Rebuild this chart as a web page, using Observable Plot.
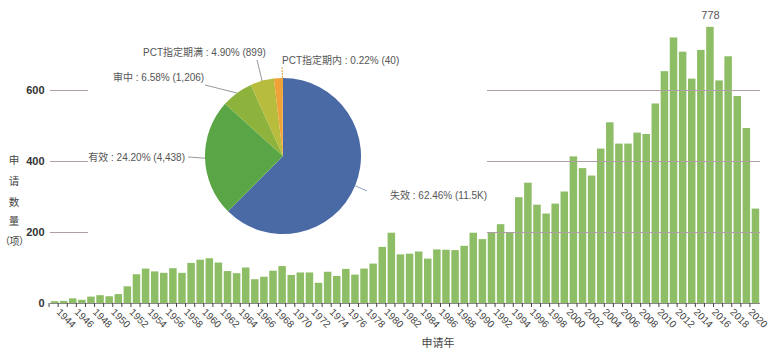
<!DOCTYPE html>
<html><head><meta charset="utf-8">
<script src="https://cdn.jsdelivr.net/npm/d3@7"></script>
<script src="https://cdn.jsdelivr.net/npm/@observablehq/plot@0.6"></script>
<style>
body{margin:0;background:#fff;}
#chart svg{display:block;}
</style>
</head><body><div id="chart"></div>
<script>
// ---- bar data ----
const years = [1943,1944,1945,1946,1947,1948,1949,1950,1951,1952,1953,1954,1955,1956,1957,1958,1959,1960,1961,1962,1963,1964,1965,1966,1967,1968,1969,1970,1971,1972,1973,1974,1975,1976,1977,1978,1979,1980,1981,1982,1983,1984,1985,1986,1987,1988,1989,1990,1991,1992,1993,1994,1995,1996,1997,1998,1999,2000,2001,2002,2003,2004,2005,2006,2007,2008,2009,2010,2011,2012,2013,2014,2015,2016,2017,2018,2019,2020];
const counts = [5,6,13,9,18,22,19,25,47,81,97,89,85,98,85,113,122,126,114,90,84,100,67,74,91,104,79,86,86,57,88,76,96,80,97,111,158,198,137,139,145,125,151,150,149,161,198,180,198,222,200,298,339,277,252,280,314,413,380,359,435,509,449,449,480,476,562,653,748,708,632,713,778,627,695,583,493,266];
const yTicks = [0, 200, 400, 600];
const xTickYears = years; // every year gets a tick, even years get a label

// ---- pie data ----
const statusNames = ["失效", "有效", "审中", "PCT指定期满", "", "PCT指定期内"];
const statusShares = [62.46, 24.20, 6.58, 4.90, 1.64, 0.22];
const statusLabels = ["失效 : 62.46% (11.5K)", "有效 : 24.20% (4,438)", "审中 : 6.58% (1,206)", "PCT指定期满 : 4.90% (899)", "", "PCT指定期内 : 0.22% (40)"];
const statusColors = ["#4a6aa6", "#5aa646", "#8db33c", "#b7bc3c", "#eea237", "#eea237"];

const bars = years.map((y, i) => ({year: y, count: counts[i]}));
const peak = bars.reduce((a, b) => (b.count > a.count ? b : a));

const gridColor = "#b09ea4";
const FONT = '"Liberation Sans", Arial, "Noto Sans CJK SC", sans-serif';

const svg = Plot.plot({
  width: 772,
  height: 354,
  marginLeft: 50,
  marginRight: 12,
  marginTop: 19,
  marginBottom: 51,
  style: {fontFamily: FONT, fontSize: "10px", background: "#fff", color: "#444"},
  x: {type: "linear", domain: [years[0] - 0.5, years[years.length - 1] + 0.5], axis: null},
  y: {domain: [0, 800], axis: null},
  marks: [
    Plot.rectY(bars, {x1: d => d.year - 0.5, x2: d => d.year + 0.5, y: "count", fill: "#8dbd64", insetLeft: 0.8, insetRight: 0.8}),
    // gridline segments (interrupted behind the inset pie)
    Plot.ruleY(yTicks.filter(d => d > 0), {x1: years[0] - 0.5, x2: 1946.67, stroke: gridColor, strokeWidth: 1}),
    Plot.ruleY(yTicks.filter(d => d > 0), {x1: 1990.5, x2: years[years.length - 1] + 0.5, stroke: gridColor, strokeWidth: 1}),
    Plot.ruleY([0], {stroke: "#888", strokeWidth: 1.2}),
    Plot.axisY(yTicks, {tickSize: 0, tickPadding: 6, fontWeight: "bold", fontSize: 11, color: "#333", label: null}),
    Plot.axisX(xTickYears, {tickFormat: d => (d % 2 === 0 ? String(d) : ""), tickRotate: 45, tickSize: 4, tickPadding: 3, dx: -6, color: "#444", fontSize: 10, label: null}),
    Plot.text([peak], {x: "year", y: "count", text: d => String(d.count), dy: -8, lineAnchor: "bottom", fill: "#555", fontSize: 11})
  ]
});

const s = d3.select(svg);

// y-axis title (vertical characters)
const yTitle = ["申", "请", "数", "量"];
const yTitleY = [160, 181, 202, 221];
yTitle.forEach((c, i) => {
  s.append("text").attr("x", 14).attr("y", yTitleY[i]).attr("dy", "0.35em")
    .attr("text-anchor", "middle").attr("font-size", 10.5).attr("fill", "#444")
    .attr("font-family", '"Noto Sans CJK SC", sans-serif').text(c);
});
s.append("text").attr("x", 0).attr("y", 241).attr("dy", "0.35em").attr("text-anchor", "start")
  .attr("font-size", 10).attr("letter-spacing", "-0.5px").attr("fill", "#444")
  .attr("font-family", '"Noto Sans CJK SC", sans-serif').text("（项）");

// x-axis title
s.append("text").attr("x", 438).attr("y", 343).attr("dy", "0.35em").attr("text-anchor", "middle")
  .attr("font-size", 11).attr("fill", "#444").text("申请年");

// ---- inset pie ----
const cx = 283, cy = 156, R = 78;
const pieData = statusShares.map((v, i) => ({name: statusNames[i], value: v, label: statusLabels[i], color: statusColors[i]}));
const arcs = d3.pie().sort(null).value(d => d.value).startAngle(0).endAngle(2 * Math.PI)(pieData);
const arc = d3.arc().innerRadius(0).outerRadius(R);
const g = s.append("g").attr("transform", `translate(${cx},${cy})`);
g.selectAll("path").data(arcs).join("path").attr("d", arc).attr("fill", d => d.data.color);

// label layout: [text x, text y (center), anchor, leader end x, leader end y]
const labelLayout = {
  "失效": [390, 195, "start", 367, 191],
  "有效": [185, 157, "end", 188, 157],
  "审中": [113, 77, "start", 205, 85],
  "PCT指定期满": [143, 52, "start", 257, 60],
  "PCT指定期内": [282, 60, "start", 282, 66]
};
arcs.forEach(a => {
  const L = labelLayout[a.data.name];
  if (!L) return;
  const mid = (a.startAngle + a.endAngle) / 2;
  const px = cx + Math.sin(mid) * R, py = cy - Math.cos(mid) * R;
  const isIn = a.data.name === "PCT指定期内";
  s.append("line").attr("x1", px).attr("y1", py).attr("x2", L[3]).attr("y2", L[4])
    .attr("stroke", isIn ? "#eea237" : (a.data.name === "失效" ? "#8fa3c8" : "#999"))
    .attr("stroke-width", 1).attr("stroke-dasharray", isIn ? "2,1" : null);
  s.append("text").attr("x", L[0]).attr("y", L[1]).attr("dy", "0.35em").attr("text-anchor", L[2])
    .attr("font-size", 10).attr("fill", "#555").text(a.data.label);
});

document.getElementById("chart").appendChild(svg);
</script>
</body></html>
